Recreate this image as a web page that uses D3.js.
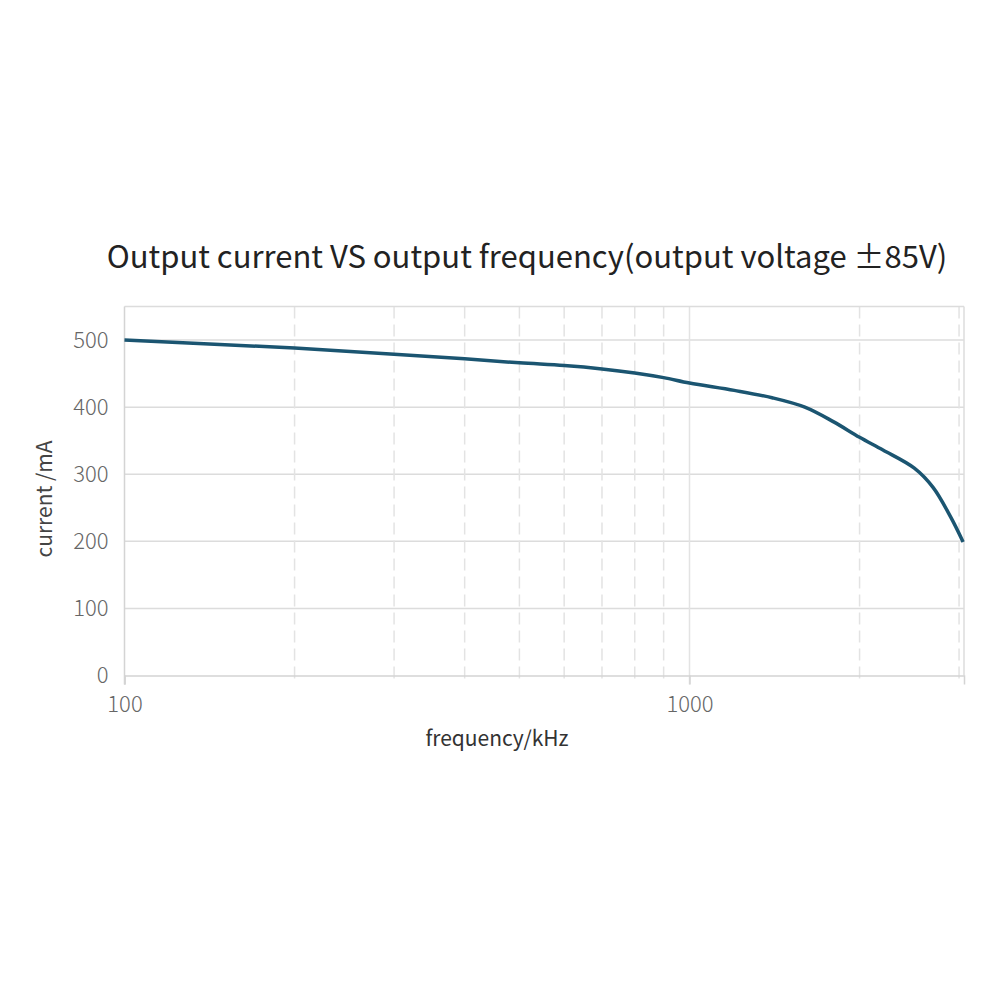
<!DOCTYPE html>
<html>
<head>
<meta charset="utf-8">
<script src="https://cdn.jsdelivr.net/npm/d3@7"></script>
<style>
  body { margin: 0; background: #fff; }
  svg { font-family: "Noto Sans CJK SC", "Noto Sans", sans-serif; }
</style>
</head>
<body>
<div id="chart"></div>
<script>
// values
var freq = [100, 200, 300, 400, 500, 600, 700, 800, 900, 1000, 1200, 1400, 1600, 1800, 2000, 2200, 2500, 2700, 2900, 3050];
var current = [500, 488, 479, 472, 466, 462, 457, 451, 444, 436, 425, 414, 400, 378, 355, 336, 309, 280, 236, 199];
var yTicks = [0, 100, 200, 300, 400, 500];
var xMinor = [200, 300, 400, 500, 600, 700, 800, 900, 2000, 3000];
var xMajor = [100, 1000];

var width = 1000, height = 1000;
var plotLeft = 124.5, plotRight = 964, plotTop = 306.5, plotBottom = 675.5;

var svg = d3.select("#chart").append("svg")
  .attr("width", width).attr("height", height);

var xScale = d3.scaleLog().domain([100, 3061]).range([plotLeft, plotRight]);
var yScale = d3.scaleLinear().domain([0, 550]).range([plotBottom, plotTop]);

// horizontal grid
svg.append("g").selectAll("line").data(yTicks.slice(1)).enter().append("line")
  .attr("x1", plotLeft).attr("x2", plotRight)
  .attr("y1", function(d) { return yScale(d); })
  .attr("y2", function(d) { return yScale(d); })
  .attr("stroke", "#dcdcdc").attr("stroke-width", 1.5);

// vertical dashed grid
svg.append("g").selectAll("line").data(xMinor).enter().append("line")
  .attr("x1", function(d) { return xScale(d); })
  .attr("x2", function(d) { return xScale(d); })
  .attr("y1", plotTop).attr("y2", plotBottom + 6)
  .attr("stroke", "#e3e3e3").attr("stroke-width", 1.5)
  .attr("stroke-dasharray", "12,6");

svg.append("line")
  .attr("x1", xScale(1000)).attr("x2", xScale(1000))
  .attr("y1", plotTop).attr("y2", plotBottom + 9)
  .attr("stroke", "#e3e3e3").attr("stroke-width", 1.5);

// frame
svg.append("line").attr("x1", plotLeft).attr("x2", plotRight).attr("y1", plotTop).attr("y2", plotTop)
  .attr("stroke", "#dcdcdc").attr("stroke-width", 1.5);
svg.append("line").attr("x1", plotRight).attr("x2", plotRight).attr("y1", plotTop).attr("y2", plotBottom)
  .attr("stroke", "#dcdcdc").attr("stroke-width", 1.5);

// axes
var xAxis = d3.axisBottom(xScale).tickValues(xMajor).tickFormat(d3.format("d"))
  .tickSize(9).tickPadding(12);
var gx = svg.append("g").attr("transform", "translate(0," + plotBottom + ")").call(xAxis);
gx.select(".domain").attr("stroke", "#d4d4d4").attr("stroke-width", 1.5);
gx.selectAll(".tick line").attr("stroke", "#d4d4d4").attr("stroke-width", 1.5);
gx.selectAll("text").attr("fill", "#666").attr("font-size", 22).attr("font-weight", 300)
  .attr("font-family", "'Noto Sans CJK SC', sans-serif");

var yAxis = d3.axisLeft(yScale).tickValues(yTicks).tickSize(0).tickPadding(16);
var gy = svg.append("g").attr("transform", "translate(" + plotLeft + ",0)").call(yAxis);
gy.select(".domain").remove();
gy.selectAll("text").attr("fill", "#666").attr("font-size", 22).attr("font-weight", 300)
  .attr("font-family", "'Noto Sans CJK SC', sans-serif");
svg.append("line").attr("x1", plotLeft).attr("x2", plotLeft).attr("y1", plotTop).attr("y2", plotBottom + 9)
  .attr("stroke", "#d4d4d4").attr("stroke-width", 1.5);

// curve
var line = d3.line()
  .x(function(d, i) { return xScale(freq[i]); })
  .y(function(d) { return yScale(d); })
  .curve(d3.curveCatmullRom.alpha(0.5));
svg.append("path").datum(current)
  .attr("d", line)
  .attr("fill", "none")
  .attr("stroke", "#1b5571")
  .attr("stroke-width", 3.5);

// titles
svg.append("text").attr("x", 527).attr("y", 268)
  .attr("text-anchor", "middle").attr("font-size", 31).attr("fill", "#222")
  .text("Output current VS output frequency(output voltage ±85V)");

svg.append("text").attr("x", 497).attr("y", 746)
  .attr("text-anchor", "middle").attr("font-size", 21).attr("fill", "#333")
  .text("frequency/kHz");

svg.append("text")
  .attr("transform", "translate(52,499) rotate(-90)")
  .attr("text-anchor", "middle").attr("font-size", 21).attr("fill", "#444")
  .text("current /mA");
</script>
</body>
</html>
